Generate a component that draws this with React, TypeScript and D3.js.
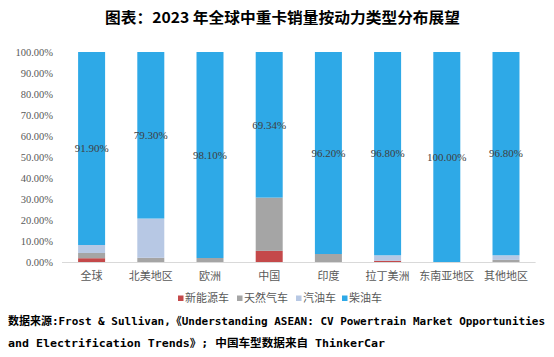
import React from "react";
import * as d3 from "d3";

const categories = ["全球", "北美地区", "欧洲", "中国", "印度", "拉丁美洲", "东南亚地区", "其他地区"];
const seriesNames = ["新能源车", "天然气车", "汽油车", "柴油车"];
const nev = [1.8, 0, 0, 5.3, 0, 0.6, 0, 0];
const ngv = [2.5, 2.0, 1.9, 25.36, 3.8, 0, 0, 1.0];
const gasoline = [3.8, 18.7, 0, 0, 0, 2.6, 0, 2.2];
const diesel = [91.9, 79.3, 98.1, 69.34, 96.2, 96.8, 100.0, 96.8];
const dieselLabels = ["91.90%", "79.30%", "98.10%", "69.34%", "96.20%", "96.80%", "100.00%", "96.80%"];
const yTicks = [0, 10, 20, 30, 40, 50, 60, 70, 80, 90, 100];
const colors = ["#C4494A", "#A5A5A5", "#B7C8E4", "#2EA9E7"];

const title = "图表：2023 年全球中重卡销量按动力类型分布展望";
const source1 = "数据来源:Frost & Sullivan,《Understanding ASEAN: CV Powertrain Market Opportunities";
const source2 = "and Electrification Trends》; 中国车型数据来自 ThinkerCar";

export default function App() {
  const W = 554, H = 357;
  const x = d3.scaleBand<string>().domain(categories).range([62, 535.6]).paddingInner(0.544).paddingOuter(0.272);
  const y = d3.scaleLinear().domain([0, 100]).range([262, 52]);
  const rows = categories.map((c, i) => ({ cat: c, s0: nev[i], s1: ngv[i], s2: gasoline[i], s3: diesel[i] }));
  const stack = d3.stack<any>().keys(["s0", "s1", "s2", "s3"]);
  const layers = stack(rows);
  const serif = "Times New Roman, Liberation Serif, Noto Sans CJK SC, serif";
  const mono = "DejaVu Sans Mono, Noto Sans CJK SC, monospace";
  const legendX = [178, 237, 296, 342];
  return (
    <svg width={W} height={H} style={{ position: "absolute", left: 0, top: 0, background: "#fff" }}>
      <text x={105} y={23} fontSize={15} fontWeight="bold" fontFamily="Noto Sans CJK SC, sans-serif" textLength={355} lengthAdjust="spacingAndGlyphs" fill="#000">{title}</text>
      {yTicks.map((t) => (
        <text key={t} x={53} y={y(t)} dy="0.35em" textAnchor="end" fontSize={10.5} fontFamily={serif} fill="#595959">{t.toFixed(2) + "%"}</text>
      ))}
      {layers.map((layer, li) => (
        <g key={li} fill={colors[li]}>
          {layer.map((d, i) => (
            <rect key={i} x={x(categories[i])} width={x.bandwidth()} y={y(d[1])} height={Math.max(0, y(d[0]) - y(d[1]))} />
          ))}
        </g>
      ))}
      <line x1={62} x2={535.6} y1={262.5} y2={262.5} stroke="#D9D9D9" strokeWidth={1} />
      {layers[3].map((d, i) => (
        <text key={i} x={(x(categories[i]) as number) + x.bandwidth() / 2} y={y((d[0] + d[1]) / 2)} dy="0.35em" textAnchor="middle" fontSize={11} fontFamily={serif} fill="#404040">{dieselLabels[i]}</text>
      ))}
      {categories.map((c) => (
        <text key={c} x={(x(c) as number) + x.bandwidth() / 2} y={276} dy="0.35em" textAnchor="middle" fontSize={11} fontFamily={serif} fill="#595959">{c}</text>
      ))}
      {seriesNames.map((s, i) => (
        <g key={s}>
          <rect x={legendX[i]} y={295.5} width={5.5} height={5.5} fill={colors[i]} />
          <text x={legendX[i] + 7} y={298.5} dy="0.35em" fontSize={11} fontFamily={serif} fill="#595959">{s}</text>
        </g>
      ))}
      <text x={8} y={324.5} fontSize={11} fontWeight="bold" fontFamily={mono} textLength={537} lengthAdjust="spacingAndGlyphs" fill="#000">{source1}</text>
      <text x={8} y={346.5} fontSize={11} fontWeight="bold" fontFamily={mono} textLength={377} lengthAdjust="spacingAndGlyphs" fill="#000">{source2}</text>
    </svg>
  );
}
